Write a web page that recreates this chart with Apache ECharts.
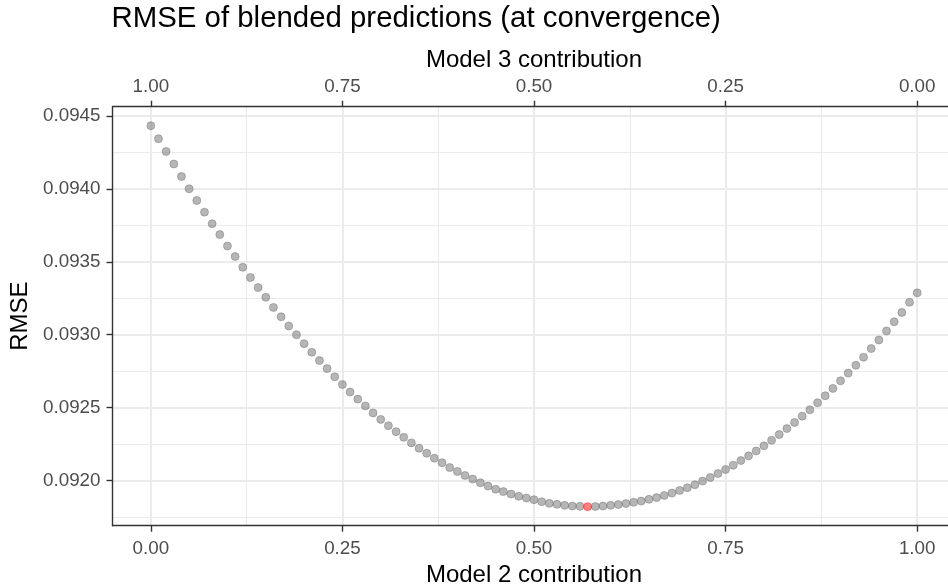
<!DOCTYPE html>
<html>
<head>
<meta charset="utf-8">
<script src="https://cdn.jsdelivr.net/npm/echarts@6/dist/echarts.min.js"></script>
<style>
html,body{margin:0;padding:0;background:#fff;}
#chart{width:948px;height:586px;}
</style>
</head>
<body>
<div id="chart"></div>
<script>
// Model 2 contribution (x)
var model2Contribution = [
0.00,0.01,0.02,0.03,0.04,0.05,0.06,0.07,0.08,0.09,
0.10,0.11,0.12,0.13,0.14,0.15,0.16,0.17,0.18,0.19,
0.20,0.21,0.22,0.23,0.24,0.25,0.26,0.27,0.28,0.29,
0.30,0.31,0.32,0.33,0.34,0.35,0.36,0.37,0.38,0.39,
0.40,0.41,0.42,0.43,0.44,0.45,0.46,0.47,0.48,0.49,
0.50,0.51,0.52,0.53,0.54,0.55,0.56,0.57,0.58,0.59,
0.60,0.61,0.62,0.63,0.64,0.65,0.66,0.67,0.68,0.69,
0.70,0.71,0.72,0.73,0.74,0.75,0.76,0.77,0.78,0.79,
0.80,0.81,0.82,0.83,0.84,0.85,0.86,0.87,0.88,0.89,
0.90,0.91,0.92,0.93,0.94,0.95,0.96,0.97,0.98,0.99,
1.00];
// RMSE of blended predictions
var rmseValues = [
0.094432,0.094343,0.094256,0.094170,0.094084,0.094000,0.093920,0.093840,0.093761,0.093686,
0.093608,0.093536,0.093462,0.093392,0.093323,0.093256,0.093187,0.093123,0.093060,0.093000,
0.092939,0.092880,0.092823,0.092768,0.092712,0.092659,0.092607,0.092559,0.092512,0.092464,
0.092420,0.092377,0.092336,0.092297,0.092259,0.092222,0.092188,0.092154,0.092123,0.092090,
0.092063,0.092036,0.092011,0.091986,0.091963,0.091942,0.091925,0.091908,0.091893,0.091881,
0.091870,0.091856,0.091845,0.091838,0.091831,0.091826,0.091824,0.091822,0.091823,0.091826,
0.091831,0.091836,0.091843,0.091852,0.091860,0.091872,0.091884,0.091899,0.091915,0.091933,
0.091952,0.091972,0.091997,0.092022,0.092049,0.092077,0.092106,0.092138,0.092170,0.092204,
0.092239,0.092277,0.092316,0.092357,0.092399,0.092442,0.092486,0.092534,0.092582,0.092632,
0.092684,0.092737,0.092791,0.092846,0.092905,0.092964,0.093026,0.093089,0.093153,0.093222,
0.093287];
var xTicks = [0, 0.25, 0.5, 0.75, 1];
var xMinorTicks = [0.125, 0.375, 0.625, 0.875];
var yTicks = [0.0920, 0.0925, 0.0930, 0.0935, 0.0940, 0.0945];
var yMinorTicks = [0.09175, 0.09225, 0.09275, 0.09325, 0.09375, 0.09425];

var FONT = 'Liberation Sans, Arial, Helvetica, sans-serif';
var minIdx = 0;
for (var i = 1; i < rmseValues.length; i++) if (rmseValues[i] < rmseValues[minIdx]) minIdx = i;
var grayPts = [], redPts = [];
for (var j = 0; j < rmseValues.length; j++) {
  if (j === minIdx) redPts.push([model2Contribution[j], rmseValues[j]]);
  else grayPts.push([model2Contribution[j], rmseValues[j]]);
}
var yLo = Math.min.apply(null, rmseValues), yHi = Math.max.apply(null, rmseValues);
var yPad = (yHi - yLo) * 0.05;
var xLo = model2Contribution[0], xHi = model2Contribution[model2Contribution.length - 1];
var xPad = (xHi - xLo) * 0.05;

var axisLineStyle = {color: '#333333', width: 1.4};
var chart = echarts.init(document.getElementById('chart'), null, {renderer: 'canvas'});
chart.setOption({
  animation: false,
  backgroundColor: '#ffffff',
  title: {
    text: 'RMSE of blended predictions (at convergence)',
    left: 111.5, top: 4, padding: 0,
    textStyle: {fontFamily: FONT, fontSize: 29.4, fontWeight: 'normal', color: '#000000'}
  },
  grid: {left: 112.5, top: 106.7, width: 843, height: 419, containLabel: false, outerBoundsMode: 'none'},
  xAxis: [
    {
      type: 'value', position: 'bottom', min: xLo - xPad, max: xHi + xPad,
      name: 'Model 2 contribution', nameLocation: 'middle', nameGap: 37,
      nameTextStyle: {fontFamily: FONT, fontSize: 24, color: '#000000'},
      axisLine: {show: true, onZero: false, lineStyle: axisLineStyle},
      axisTick: {show: true, length: 6, lineStyle: axisLineStyle, customValues: xTicks},
      axisLabel: {show: true, customValues: xTicks, margin: 13.5, fontFamily: FONT, fontSize: 18.8, color: '#4D4D4D',
        formatter: function (v) { return v.toFixed(2); }},
      splitLine: {show: true, lineStyle: {color: '#EBEBEB', width: 2}}
    },
    {
      type: 'value', position: 'top', inverse: true, min: xLo - xPad, max: xHi + xPad,
      name: 'Model 3 contribution', nameLocation: 'middle', nameGap: 32,
      nameTextStyle: {fontFamily: FONT, fontSize: 24, color: '#000000'},
      axisLine: {show: true, onZero: false, lineStyle: axisLineStyle},
      axisTick: {show: true, length: 6, lineStyle: axisLineStyle, customValues: xTicks},
      axisLabel: {show: true, customValues: xTicks, margin: 10, fontFamily: FONT, fontSize: 18.8, color: '#4D4D4D',
        formatter: function (v) { return v.toFixed(2); }},
      splitLine: {show: false}
    },
    {
      type: 'value', position: 'bottom', min: xLo - xPad, max: xHi + xPad,
      axisLine: {show: false, onZero: false}, axisLabel: {show: false},
      axisTick: {show: false, customValues: xMinorTicks},
      splitLine: {show: true, lineStyle: {color: '#EBEBEB', width: 1}}
    }
  ],
  yAxis: [
    {
      type: 'value', position: 'left', min: yLo - yPad, max: yHi + yPad,
      name: 'RMSE', nameLocation: 'middle', nameGap: 78.5, nameRotate: 90,
      nameTextStyle: {fontFamily: FONT, fontSize: 24, color: '#000000'},
      axisLine: {show: true, onZero: false, lineStyle: axisLineStyle},
      axisTick: {show: true, length: 6, lineStyle: axisLineStyle, customValues: yTicks},
      axisLabel: {show: true, customValues: yTicks, margin: 12, fontFamily: FONT, fontSize: 18.8, color: '#4D4D4D',
        formatter: function (v) { return v.toFixed(4); }},
      splitLine: {show: true, lineStyle: {color: '#EBEBEB', width: 2}}
    },
    {
      type: 'value', position: 'right', min: yLo - yPad, max: yHi + yPad,
      axisLine: {show: false, onZero: false}, axisLabel: {show: false},
      axisTick: {show: false, customValues: yMinorTicks},
      splitLine: {show: true, lineStyle: {color: '#EBEBEB', width: 1}}
    }
  ],
  series: [
    {
      type: 'scatter', xAxisIndex: 0, yAxisIndex: 0, data: grayPts,
      symbol: 'circle', symbolSize: 8,
      itemStyle: {color: 'rgba(102,102,102,0.48)', borderColor: 'rgba(102,102,102,0.4)', borderWidth: 1, opacity: 1},
      emphasis: {disabled: true}, silent: true
    },
    {
      type: 'scatter', xAxisIndex: 0, yAxisIndex: 0, data: redPts,
      symbol: 'circle', symbolSize: 8,
      itemStyle: {color: 'rgba(255,0,0,0.5)', borderColor: 'rgba(255,0,0,0.4)', borderWidth: 1, opacity: 1},
      emphasis: {disabled: true}, silent: true
    }
  ]
});
</script>
</body>
</html>
